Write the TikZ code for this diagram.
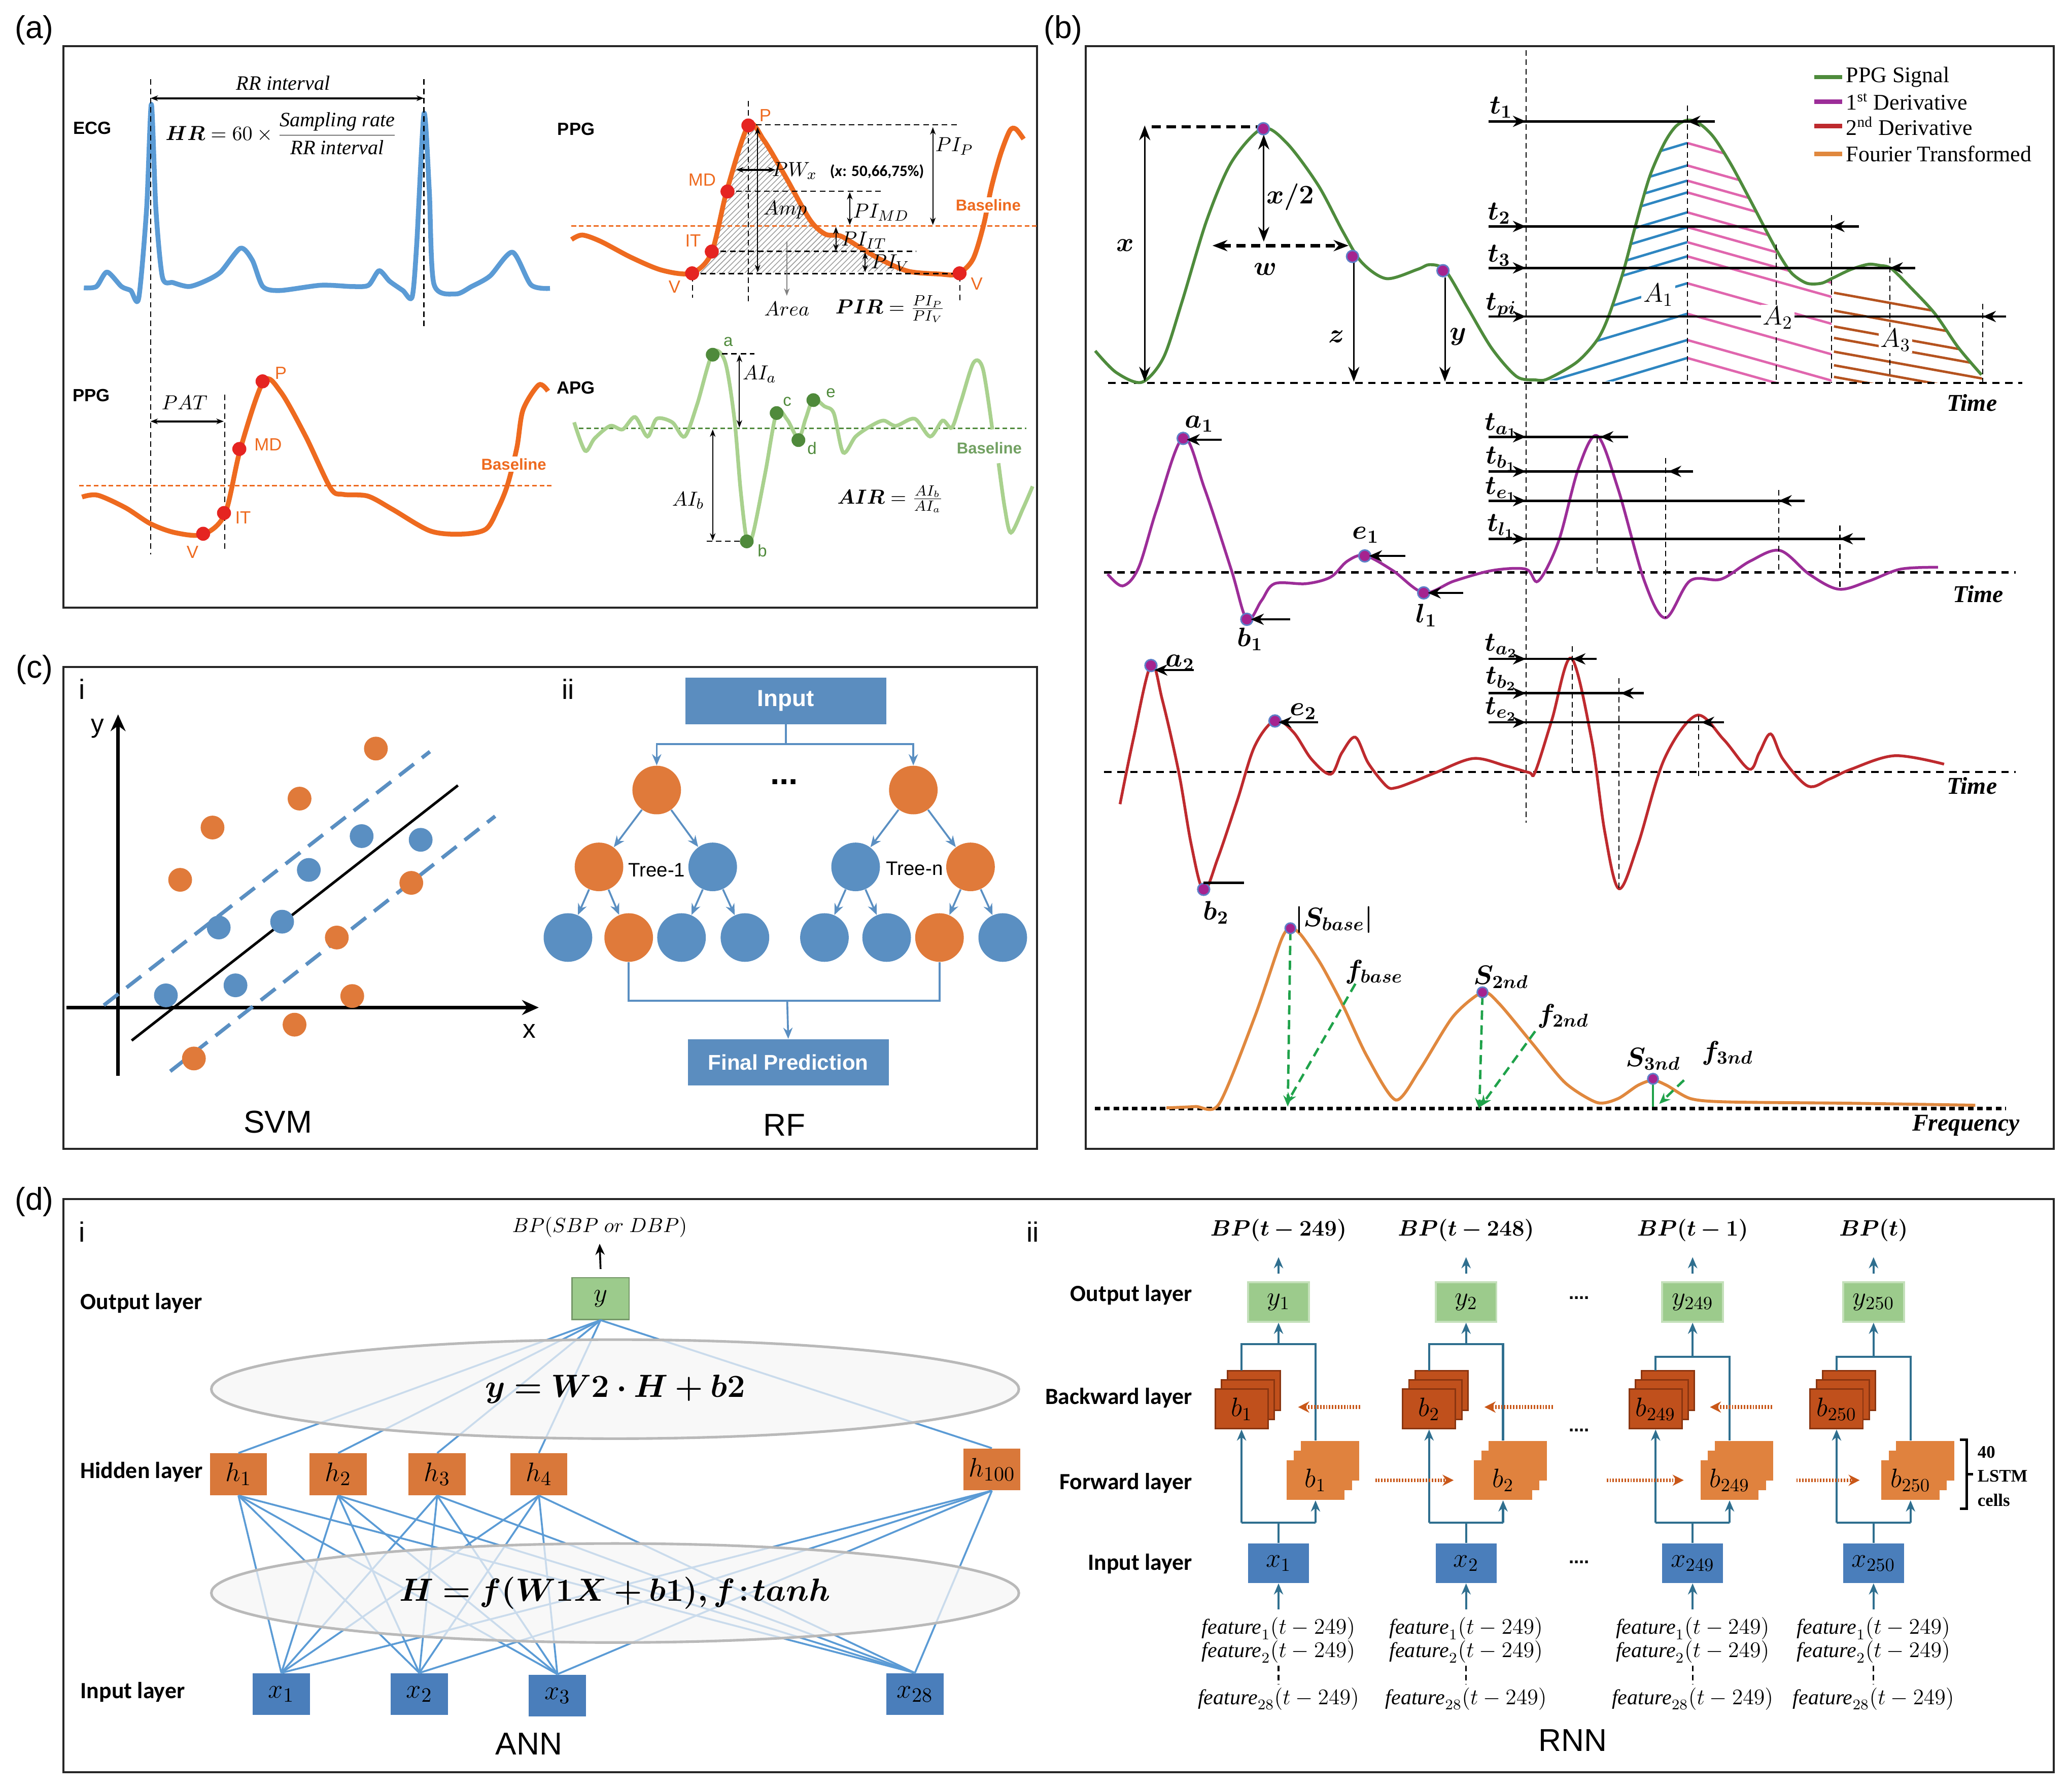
\documentclass[tikz,border=0pt]{standalone}
\usepackage{fontspec}
\usepackage{amsmath}
\usepackage{bm}
\setmainfont{Liberation Sans}
\newfontfamily\serf{Liberation Serif}
\newfontfamily\calf{Carlito}
\usetikzlibrary{arrows.meta,patterns,positioning,calc}

% colours
\definecolor{ecgblue}{HTML}{5B9BD5}
\definecolor{ppgor}{HTML}{EE6A1F}
\definecolor{dotred}{HTML}{E52421}
\definecolor{apglight}{HTML}{A9D18E}
\definecolor{apgdark}{HTML}{4F8A3B}
\definecolor{siggreen}{HTML}{4E8B3C}
\definecolor{derivone}{HTML}{9C2D98}
\definecolor{derivtwo}{HTML}{BE2A2E}
\definecolor{fourier}{HTML}{E0883E}
\definecolor{hatchblue}{HTML}{2E86C1}
\definecolor{hatchpink}{HTML}{E066AE}
\definecolor{hatchbrown}{HTML}{B5531F}
\definecolor{markfill}{HTML}{A5238F}
\definecolor{markedge}{HTML}{5E80C8}
\definecolor{dashgreen}{HTML}{1FA24A}
\definecolor{svmblue}{HTML}{5A8FC2}
\definecolor{svmorange}{HTML}{E07A3A}
\definecolor{rfbox}{HTML}{5B8DBF}
\definecolor{annblue}{HTML}{4A7EBB}
\definecolor{annorange}{HTML}{D9783A}
\definecolor{anngreen}{HTML}{9CCB8C}
\definecolor{annline}{HTML}{5B9BD5}
\definecolor{wire}{HTML}{2F6F8F}
\definecolor{backcell}{HTML}{C0501C}
\definecolor{backedge}{HTML}{8A3510}
\definecolor{fwdcell}{HTML}{E0823E}

\tikzset{
  panel/.style={draw=black!85, line width=1.1pt},
  plab/.style={font=\fontsize{17}{19}\selectfont},
  sublab/.style={font=\fontsize{15}{17}\selectfont},
  bigname/.style={font=\fontsize{17}{19}\selectfont},
  siglab/.style={font=\bfseries\fontsize{9.5}{11}\selectfont},
  ptlab/.style={font=\fontsize{9.5}{11}\selectfont, text=ppgor, inner sep=1pt},
  baselab/.style={font=\bfseries\fontsize{8.5}{10}\selectfont, fill=white, inner sep=1pt},
  mlab/.style={font=\fontsize{11}{13}\selectfont, inner sep=1pt},
  dimarr/.style={{Stealth[length=4pt,width=3pt]}-{Stealth[length=4pt,width=3pt]}, line width=0.6pt},
  thinarr/.style={-{Stealth[length=4pt,width=3pt]}, line width=0.6pt},
  blab/.style={font=\fontsize{14}{16}\selectfont, inner sep=1pt},
  timelab/.style={font=\serf\bfseries\itshape\fontsize{13}{15}\selectfont},
  tline/.style={line width=1.3pt},
  tarr/.style={-{Stealth[length=7pt,width=6pt]}, line width=1.3pt},
  bdash/.style={dash pattern=on 3pt off 2pt, line width=0.6pt},
  bbase/.style={dash pattern=on 4pt off 3pt, line width=1.2pt},
  pmark/.style={fill=markfill, draw=markedge, line width=0.8pt},
  treenode/.style={circle, minimum size=0.92cm, inner sep=0pt},
  rfboxs/.style={fill=rfbox, text=white, font=\bfseries\fontsize{12.5}{14}\selectfont, minimum width=3.8cm, minimum height=0.88cm},
  rfarr/.style={svmblue, line width=1pt, -{Stealth[length=6pt,width=5pt]}},
  rfline/.style={svmblue, line width=1pt},
  annbox/.style={minimum width=1.08cm, minimum height=0.79cm, inner sep=0pt, font=\fontsize{15}{17}\selectfont},
  annedge/.style={annline, line width=1pt},
  annell/.style={fill=gray!8, fill opacity=0.72, draw=gray!55, line width=1.4pt},
  layerlab/.style={font=\calf\bfseries\fontsize{12.5}{14}\selectfont},
  rnnbox/.style={minimum width=1.15cm, minimum height=0.75cm, inner sep=0pt, font=\fontsize{14}{16}\selectfont},
  cellfront/.style={minimum width=1.0cm, minimum height=0.75cm, inner sep=0pt, font=\fontsize{14}{16}\selectfont},
  wireln/.style={wire, line width=1.2pt},
  wirearr/.style={wire, line width=1.2pt, -{Stealth[length=6pt,width=5pt]}},
  dotarr/.style={backcell!85!orange, line width=2pt, dash pattern=on 0.8pt off 0.8pt, -{Stealth[length=6pt,width=6pt]}},
  featlab/.style={font=\fontsize{11.5}{13}\selectfont, inner sep=0.5pt},
}

\begin{document}
\begin{tikzpicture}[x=0.025cm, y=-0.025cm]
\useasboundingbox (0,0) rectangle (1568,1357);

% ---------------- frames ----------------
\draw[panel] (48,35) rectangle (785,460);
\draw[panel] (822,35) rectangle (1555,870);
\draw[panel] (48,505) rectangle (785,870);
\draw[panel] (48,908) rectangle (1555,1342);
\node[plab] (la) at (26,23) {(a)};
\node[plab] (lb) at (805,23) {(b)};
\node[plab] (lc) at (26,507) {(c)};
\node[plab] (ld) at (26,910) {(d)};

% ---------------- (a) ECG ----------------
\node[siglab] (ecg) at (70,97) {ECG};
\draw[ecgblue, line width=2.6pt, line join=round] plot[smooth, tension=0.45] coordinates {(63.5,218) (73,217) (81,206) (92,217) (99,220) (105,226) (111,158) (114.6,79) (118,158) (123,210) (131,214) (143,217) (155,213) (167,206) (182,188) (191,197) (199,217) (212,220) (243,216) (267,217) (279,216) (287,205) (295,213) (305,220) (312,225) (315.5,185) (321,86) (325,144) (328.5,215) (345,222.6) (357,217) (371,209) (388,191) (402,215.7) (416.4,218.4)};
\draw[bdash] (114,60) -- (114,420);
\draw[bdash] (320.9,60) -- (320.9,248);
\draw[dimarr, line width=1pt] (114,74.4) -- (320.9,74.4);
\node[mlab, font=\serf\itshape\fontsize{11}{13}\selectfont] (rr) at (214.4,63) {RR interval};
\node[mlab] (hr) at (213,101) {$\bm{HR} = 60\times\dfrac{\text{\serf\itshape Sampling rate}}{\text{\serf\itshape RR interval}}$};

% ---------------- (a) PPG top ----------------
\node[siglab] (ppga) at (436.2,97.7) {PPG};
\fill[pattern=north east lines, pattern color=gray!80] plot[smooth, tension=0.5] coordinates {(523.5,207) (538.6,191.7) (550.3,144.4) (566.6,95) (578.2,106) (594.5,133.4) (613.1,166.3) (624.8,177.3) (636.4,178.7) (650.4,186.9) (666.7,196.5) (687.6,205.4)} -- cycle;
\draw[ppgor, line width=0.9pt, dash pattern=on 2.5pt off 1.5pt] (432.7,171) -- (785,171);
\draw[ppgor, line width=2.6pt] plot[smooth, tension=0.5] coordinates {(432.7,181.4) (440.9,178) (454.8,182.8) (478,195) (501.4,204.7) (523.5,206.8) (538.6,191.7) (550.3,144.4) (566.6,95) (578.2,106) (594.5,133.4) (613.1,166.3) (624.8,177.3) (636.4,178.7) (650.4,186.9) (666.7,196.5) (687.6,205.4) (710.9,207.5) (724.9,207.5) (736.5,196.5) (744.7,170.4) (750.5,142.3) (757.5,116.9) (764.5,99) (769.1,97.7) (775,105.3)};
\draw[bdash] (572.4,94.6) -- (724.9,94.6);
\draw[bdash] (550.3,144.8) -- (669,144.8);
\draw[bdash] (538.6,190.3) -- (693.4,190.3);
\draw[bdash] (523.5,207.2) -- (727,207.2);
\draw[bdash] (566.6,76.4) -- (566.6,230.8);
\draw[bdash] (524.2,209) -- (524.2,225.3);
\draw[bdash] (726.7,209) -- (726.7,229.4);
\draw[dimarr] (573.6,96.3) -- (573.6,206.1);
\draw[dimarr, line width=1pt] (557.3,128.6) -- (587.1,128.6);
\draw[dimarr] (706.3,96.3) -- (706.3,170.4);
\draw[dimarr] (643.4,145.5) -- (643.4,170.4);
\draw[dimarr] (632.9,171.8) -- (632.9,190.3);
\draw[dimarr] (655,191) -- (655,206.1);
\draw[gray, line width=0.6pt, -{Stealth[length=4pt,width=3pt]}] (595.7,182.8) -- (595.7,224);
\foreach \px/\py in {566.6/95, 550.8/145, 538.9/190.5, 524/207, 726.5/207}
  \fill[dotred] (\px,\py) circle [radius=5.3];
\node[mlab] (amp) at (594.5,158.8) {$Amp$};
\node[mlab] (pw) at (601.5,129.3) {$PW_x$};
\node[font=\calf\bfseries\fontsize{8.5}{10}\selectfont] (pwx) at (664,130) {(\textit{x}: 50,66,75\%)};
\node[mlab] (pip) at (722.5,110.7) {$PI_P$};
\node[mlab] (pimd) at (667,160.8) {$PI_{MD}$};
\node[mlab] (piit) at (654,182.1) {$PI_{IT}$};
\node[mlab] (piv) at (674,199.2) {$PI_V$};
\node[mlab] (area) at (595.7,234) {$Area$};
\node[mlab] (pir) at (674,234) {$\bm{PIR} = \frac{PI_P}{PI_V}$};
\node[ptlab] (pP) at (579.4,87.4) {P};
\node[ptlab] (pMD) at (531.6,136.1) {MD};
\node[ptlab] (pIT) at (524.7,182.1) {IT};
\node[ptlab] (pV) at (510.7,217.1) {V};
\node[ptlab] (pV2) at (739.5,215) {V};
\node[baselab, text=ppgor] (bl1) at (748.2,155.3) {Baseline};

% ---------------- (a) PPG bottom ----------------
\node[siglab] (ppgb) at (69.2,299.6) {PPG};
\draw[ppgor, line width=0.9pt, dash pattern=on 2.5pt off 1.5pt] (59.8,367.7) -- (419.6,367.7);
\draw[ppgor, line width=2.6pt] plot[smooth, tension=0.5] coordinates {(62.1,376.4) (73.9,375) (95,384.5) (113.9,396.6) (132.7,403.4) (153.8,404.7) (170.3,389.2) (182,340) (199.5,288.8) (212.6,296.9) (231.5,330.6) (250.3,369.7) (259.7,374.4) (278.5,375.7) (297.3,385.8) (325.5,402) (349,404.5) (367.9,400.7) (377.3,384.5) (384.3,367) (391.4,338.7) (396,310.4) (407.9,291.5) (414.9,296.2)};
\draw[bdash] (170.3,298.9) -- (170.3,418.2);
\draw[dimarr, line width=1pt] (113.9,319.1) -- (169.4,319.1);
\node[mlab] (pat) at (139.7,305) {$PAT$};
\foreach \px/\py in {153.8/404.2, 169.6/388.5, 181.2/340, 198.8/288.8}
  \fill[dotred] (\px,\py) circle [radius=5.3];
\node[ptlab] (qP) at (212.6,282.7) {P};
\node[ptlab] (qMD) at (203,336.6) {MD};
\node[ptlab] (qIT) at (184,392) {IT};
\node[ptlab] (qV) at (145.8,418.2) {V};
\node[baselab, text=ppgor] (bl2) at (389,351.5) {Baseline};

% ---------------- (a) APG ----------------
\node[siglab] (apg) at (436,293.5) {APG};
\draw[apgdark, line width=0.9pt, dash pattern=on 2.5pt off 1.5pt] (438.4,324.5) -- (777,324.5);
\draw[apglight, line width=2pt] plot[smooth, tension=0.5] coordinates {(434.7,319.8) (443,341.4) (450.2,332) (462,322.5) (471.4,325.2) (480.8,315.8) (490.2,330.6) (497.2,317.1) (509,319.8) (518.4,330.6) (527.8,306.3) (539.6,267.2) (549,274) (556,317) (560.7,371) (565.4,408.8) (570,404.7) (579.5,357.5) (588,312.4) (596,317.8) (604.5,332) (610,317) (615.8,302.3) (624.2,307.7) (631.3,313) (638.4,342.7) (647.8,330.6) (659.5,322.5) (669,318.5) (678.3,322.5) (692.5,317.1) (704.2,330.6) (713.6,318.5) (720.7,323.8) (727.7,303.6) (737.1,274.6) (744.2,279.4) (751.3,325.2)};
\draw[apglight, line width=2pt] plot[smooth, tension=0.5] coordinates {(756,350.8) (760.7,384.5) (765.4,403.4) (774.8,384.5) (781.8,368.3)};
\draw[bdash] (539.6,267.9) -- (571.1,267.9);
\draw[bdash] (534.9,410) -- (565.4,410);
\draw[dimarr] (559.8,268.6) -- (559.8,323.8);
\draw[dimarr] (539.6,325.2) -- (539.6,409.4);
\foreach \px/\py in {539.6/268.6, 565.4/410, 588/312.8, 604.5/333.3, 615.8/303}
  \fill[apgdark] (\px,\py) circle [radius=5.2];
\node[font=\fontsize{9}{10}\selectfont, text=apgdark] (ga) at (551.3,259) {a};
\node[font=\fontsize{9}{10}\selectfont, text=apgdark] (gb) at (577.2,417) {b};
\node[font=\fontsize{9}{10}\selectfont, text=apgdark] (gc) at (596,304.3) {c};
\node[font=\fontsize{9}{10}\selectfont, text=apgdark] (gd) at (614.8,339.3) {d};
\node[font=\fontsize{9}{10}\selectfont, text=apgdark] (ge) at (629,297.6) {e};
\node[mlab] (aia) at (575,283.4) {$AI_a$};
\node[mlab] (aib) at (521,379) {$AI_b$};
\node[mlab] (air) at (674,378) {$\bm{AIR} = \frac{AI_b}{AI_a}$};
\node[baselab, text=apgdark!80] (bl3) at (749,339.3) {Baseline};

% ---------------- (b) legend ----------------
\foreach \yy/\cc/\tt in {58.4/siggreen/{PPG Signal}, 76.9/derivone/{1\textsuperscript{st} Derivative}, 95.5/derivtwo/{2\textsuperscript{nd} Derivative}, 116.6/fourier/{Fourier Transformed}}{
  \draw[\cc, line width=2.4pt] (1373.5,\yy) -- (1394.6,\yy);
  \node[anchor=west, font=\serf\fontsize{12}{14}\selectfont, inner sep=1pt] at (1396,\yy) {\tt};
}

% ---------------- (b) PPG features ----------------
\begin{scope}
  \clip plot[smooth, tension=0.5] coordinates {(1162.3,287.7) (1171.7,287) (1193.8,274.3) (1209.2,257.5) (1218,239.2) (1229,205.7) (1237.9,172.3) (1248.9,134) (1260,108.6) (1268.7,95.8) (1277.5,91)} -- (1277.5,290) -- cycle;
  \foreach \yy in {108.3,125.3,136.8,145.7,160.8,172,183.4,194.1,214.5,237.6,257.5,271.1}
    \draw[hatchblue, line width=1.3pt] (1277.5,\yy) -- ++(-160,48);
\end{scope}
\begin{scope}
  \clip plot[smooth, tension=0.5] coordinates {(1277.5,91) (1286.4,93.4) (1297.4,103.8) (1310.6,124.5) (1326,153.2) (1339.3,178.7) (1348.1,194.6) (1356.9,207.3) (1368,214.5) (1379,214.5) (1386.7,210.8)} -- (1386.7,290) -- (1277.5,290) -- cycle;
  \foreach \yy in {108.3,125.3,136.8,145.7,160.8,172,183.4,194.1,214.5,237.6,257.5,271.1}
    \draw[hatchpink, line width=1.3pt] (1277.5,\yy) -- ++(160,45);
\end{scope}
\begin{scope}
  \clip plot[smooth, tension=0.5] coordinates {(1386.7,210.8) (1401,204.2) (1414.3,200.2) (1423,201) (1431.9,203.4) (1447.3,218.5) (1465,237.6) (1482.6,263.1) (1500.2,283.8)} -- (1501.3,290) -- (1386.7,290) -- cycle;
  \foreach \yy in {221.7,235.2,247.2,255.9,266.3,276.6,285.4}
    \draw[hatchbrown, line width=1.3pt] (1388.5,\yy) -- ++(160,29);
\end{scope}
\draw[bbase] (839,290) -- (1531,290);
\draw[bdash] (1155.3,38) -- (1155.3,623);
\draw[siggreen, line width=1.6pt] plot[smooth, tension=0.5] coordinates {(829.2,265.7) (845,282) (864.4,289.5) (880.8,271) (894.9,228.6) (913.6,166.9) (932.4,122.8) (955.9,97.2) (974.6,108.7) (998.1,140.4) (1016.9,175.7) (1031,198.7) (1049.7,211) (1073.2,204) (1082.6,200.4) (1094.3,204.8) (1110.7,232.2) (1129.5,263.9) (1148.2,285.1) (1162.3,287.7) (1171.7,287) (1193.8,274.3) (1209.2,257.5) (1218,239.2) (1229,205.7) (1237.9,172.3) (1248.9,134) (1260,108.6) (1268.7,95.8) (1277.5,91) (1286.4,93.4) (1297.4,103.8) (1310.6,124.5) (1326,153.2) (1339.3,178.7) (1348.1,194.6) (1356.9,207.3) (1368,214.5) (1379,214.5) (1387.8,210.5) (1401,204.2) (1414.3,200.2) (1423,201) (1431.9,203.4) (1447.3,218.5) (1465,237.6) (1482.6,263.1) (1500.2,283.8)};
% left measures
\draw[{Stealth[length=8pt,width=6pt]}-{Stealth[length=8pt,width=6pt]}, line width=0.8pt] (866.7,95) -- (866.7,289);
\draw[line width=1.8pt, dash pattern=on 5pt off 3pt] (872,96) -- (953,96);
\draw[{Stealth[length=8pt,width=6pt]}-{Stealth[length=8pt,width=6pt]}, line width=0.8pt] (956.8,102) -- (956.8,183);
\draw[{Stealth[length=8pt,width=6pt]}-{Stealth[length=8pt,width=6pt]}, line width=1.8pt, dash pattern=on 5pt off 3pt] (918,186) -- (1021,186);
\draw[-{Stealth[length=8pt,width=6pt]}, line width=0.8pt] (1025,199) -- (1025,289);
\draw[-{Stealth[length=8pt,width=6pt]}, line width=0.8pt] (1094,210) -- (1094,289);
\foreach \px/\py in {956.5/97.5, 1024/194.2, 1092.5/205}
  \filldraw[pmark] (\px,\py) circle [radius=4.5];
\node[blab] (lx) at (852,186) {$\bm{x}$};
\node[blab] (lx2) at (977,149) {$\bm{x/2}$};
\node[blab] (lw) at (958,204) {$\bm{w}$};
\node[blab] (lz) at (1012,255) {$\bm{z}$};
\node[blab] (ly) at (1104,255) {$\bm{y}$};
% time marks
\draw[bdash] (1277.5,80) -- (1277.5,290);
\draw[bdash] (1386.7,162.7) -- (1386.7,290);
\draw[bdash] (1430.8,195) -- (1430.8,290);
\draw[bdash] (1501.3,230) -- (1501.3,290);
\draw[bdash] (1344.8,185) -- (1344.8,290);
\foreach \yy/\xe/\xt in {91.9/1298.5/1277.5, 171.5/1407.6/1386.7, 202.9/1450/1430.8, 239.7/1519/1501.3}{
  \draw[tline] (1127,\yy) -- (\xe,\yy);
  \draw[tarr] (1135,\yy) -- (1155.3,\yy);
  \draw[tarr] (\xe,\yy) -- (\xt,\yy);
}
\node[blab] (tone) at (1136.5,81.3) {$\bm{t_1}$};
\node[blab] (ttwo) at (1135,161.6) {$\bm{t_2}$};
\node[blab] (tthree) at (1135,193.4) {$\bm{t_3}$};
\node[blab] (tpi) at (1136.5,231.3) {$\bm{t_{pi}}$};
\node[mlab, fill=white, font=\fontsize{14}{16}\selectfont] (aone) at (1255.5,223.3) {$A_1$};
\node[mlab, fill=white, font=\fontsize{14}{16}\selectfont] (atwo) at (1346,240.8) {$A_2$};
\node[mlab, fill=white, font=\fontsize{14}{16}\selectfont] (athree) at (1435.2,257.5) {$A_3$};
\node[timelab] (time1) at (1493,305) {Time};

% ---------------- (b) first derivative ----------------
\draw[bbase] (836,433.5) -- (1526,433.5);
\draw[derivone, line width=1.5pt] plot[smooth, tension=0.55] coordinates {(838.6,434.7) (850,443.7) (862,430) (876,385) (895.8,331.5) (912,370) (932.4,432) (944,469) (955,455) (965,442) (989,442) (1007.5,437) (1020,425) (1033.3,420.7) (1054.4,432) (1077.9,448.8) (1101,440) (1130,432) (1155.3,431) (1164.7,440) (1180,410) (1195,355) (1209.2,330) (1225,370) (1245,440) (1260.9,467.9) (1279.6,439.8) (1303,438.6) (1325,425) (1347.6,416.9) (1370,435) (1392.2,446.2) (1415,440) (1439,431) (1467.3,429.6)};
\foreach \px/\py in {895.8/332, 944/469, 1033.3/421, 1077.9/449}
  \filldraw[pmark] (\px,\py) circle [radius=4.5];
\draw[tarr] (925,333) -- (898.5,333);
\draw[tarr] (977,469) -- (947,469);
\draw[tarr] (1064,421) -- (1036.5,421);
\draw[tarr] (1108,449) -- (1081,449);
\node[blab] (aoneb) at (908,321) {$\bm{a_1}$};
\node[blab] (boneb) at (946.5,484) {$\bm{b_1}$};
\node[blab] (eoneb) at (1034,405) {$\bm{e_1}$};
\node[blab] (loneb) at (1080,466) {$\bm{l_1}$};
\draw[bdash] (1209.2,331) -- (1209.2,433.5);
\draw[bdash] (1261,347) -- (1261,468);
\draw[bdash] (1346.7,371) -- (1346.7,433.5);
\draw[bdash] (1393,398) -- (1393,446);
\foreach \yy/\xe/\xt in {330.8/1232.7/1211.6, 357/1282/1263, 379.2/1366.4/1346.7, 408/1412/1393}{
  \draw[tline] (1127,\yy) -- (\xe,\yy);
  \draw[tarr] (1135,\yy) -- (1155.3,\yy);
  \draw[tarr] (\xe,\yy) -- (\xt,\yy);
}
\node[blab] (ta1) at (1136.5,322) {$\bm{t_{a_1}}$};
\node[blab] (tb1) at (1136.5,347.5) {$\bm{t_{b_1}}$};
\node[blab] (te1) at (1136.5,370.5) {$\bm{t_{e_1}}$};
\node[blab] (tl1) at (1136.5,398.5) {$\bm{t_{l_1}}$};
\node[timelab] (time2) at (1497.8,450) {Time};

% ---------------- (b) second derivative ----------------
\draw[bbase] (836,584.6) -- (1526,584.6);
\draw[derivtwo, line width=1.5pt] plot[smooth, tension=0.55] coordinates {(848,609) (858,560) (871.4,503.5) (880,530) (892.5,585) (902,640) (911.3,674.3) (922,650) (937,605.5) (950,565) (965.3,545.6) (979.3,554.5) (993,575) (1007.5,586.3) (1016,570) (1026.2,558.3) (1036,578) (1049.7,595.3) (1056.7,596.6) (1070,592) (1087.2,585) (1115.4,574.4) (1140,580) (1157.6,585) (1162.3,584.6) (1175,545) (1189.5,498.4) (1205,560) (1215,630) (1225.7,673) (1240,640) (1260,575) (1284.3,541.8) (1305,560) (1324.2,582.5) (1332,570) (1340.6,555.8) (1350,575) (1368.8,595.3) (1385,590) (1401.6,582.5) (1434.5,572.3) (1471.9,578.7)};
\foreach \px/\py in {871.4/504, 911.3/673.5, 965.3/546}
  \filldraw[pmark] (\px,\py) circle [radius=4.5];
\draw[tarr] (904,507.4) -- (874,507.4);
\draw[line width=1.3pt] (911.3,668.6) -- (942,668.6);
\draw[tarr] (998,547) -- (968,547);
\node[blab, anchor=west] (atwob) at (881,502) {$\bm{a_2}$};
\node[blab] (btwob) at (920.7,691) {$\bm{b_2}$};
\node[blab, anchor=west] (etwob) at (975,539) {$\bm{e_2}$};
\draw[bdash] (1190.5,489.5) -- (1190.5,584.6);
\draw[bdash] (1225.7,513.7) -- (1225.7,673);
\draw[bdash] (1286,541.8) -- (1286,587.6);
\foreach \yy/\xe/\xt in {499/1209/1190.5, 525/1244.4/1227, 547/1305.4/1288}{
  \draw[tline] (1127,\yy) -- (\xe,\yy);
  \draw[tarr] (1135,\yy) -- (1155.3,\yy);
  \draw[tarr] (\xe,\yy) -- (\xt,\yy);
}
\node[blab] (ta2) at (1136.5,489) {$\bm{t_{a_2}}$};
\node[blab] (tb2) at (1136.5,514) {$\bm{t_{b_2}}$};
\node[blab] (te2) at (1136.5,537) {$\bm{t_{e_2}}$};
\node[timelab] (time3) at (1493,595) {Time};

% ---------------- (b) Fourier ----------------
\draw[line width=1.8pt, dash pattern=on 3pt off 2pt] (829,839.6) -- (1519,839.6);
\draw[fourier, line width=1.6pt] plot[smooth, tension=0.45] coordinates {(883.1,839) (905,838) (923,836) (950,770) (970,712) (977,703) (985,708) (1000,730) (1016.9,761.7) (1035,800) (1056.7,833) (1075,810) (1100,770) (1122.4,751.5) (1135,760) (1160,790) (1185,820) (1209.2,835) (1225,832) (1240,822) (1251.5,818) (1262,822) (1280,832) (1307.8,834.5) (1400,835.5) (1495.5,837)};
\foreach \ax/\ay/\bx/\by in {977/705/975/838, 1026.2/745/974/836, 1122.4/754/1120/840, 1162.3/781/1121/838, 1275/818/1256.2/836}
  \draw[dashgreen, line width=1.3pt, dash pattern=on 5pt off 3pt, -{Stealth[length=6pt,width=5pt]}] (\ax,\ay) -- (\bx,\by);
\draw[dashgreen, line width=1.3pt] (1251.5,818) -- (1251.5,838);
\foreach \px/\py in {977/703, 1122.4/751.5, 1251.5/817}
  \filldraw[pmark] (\px,\py) circle [radius=4];
\node[blab] (sbase) at (1010,696.6) {$\bm{|S_{base}|}$};
\node[blab] (fbase) at (1040.3,736.2) {$\bm{f_{base}}$};
\node[blab] (s2nd) at (1136.5,740) {$\bm{S_{2nd}}$};
\node[blab] (f2nd) at (1183.4,769.4) {$\bm{f_{2nd}}$};
\node[blab] (s3nd) at (1251.5,802) {$\bm{S_{3nd}}$};
\node[blab] (f3nd) at (1307.8,797.5) {$\bm{f_{3nd}}$};
\node[timelab] (freq) at (1488.4,852.4) {Frequency};

% ---------------- (c) i SVM ----------------
\node[sublab] (ci) at (62,522) {i};
\node[sublab] (cii) at (430,522) {ii};
\draw[line width=1.8pt, -{Stealth[length=9pt,width=8pt]}] (89.4,814.8) -- (89.4,541);
\draw[line width=1.8pt, -{Stealth[length=9pt,width=8pt]}] (50.4,763) -- (407.9,763);
\node[font=\fontsize{14}{16}\selectfont] (ylab) at (74,551.8) {y};
\node[font=\fontsize{14}{16}\selectfont] (xlab) at (400.8,781) {x};
\draw[line width=1.4pt] (99.7,788) -- (346.7,594.8);
\draw[svmblue, line width=2pt, dash pattern=on 10pt off 5.5pt] (78.6,761.3) -- (325.5,569.2);
\draw[svmblue, line width=2pt, dash pattern=on 10pt off 5.5pt] (128.9,811.3) -- (374.9,618.1);
\foreach \px/\py in {284.6/566.9, 226.8/604.8, 160.9/626.7, 136.4/666.3, 311.4/668.6, 255/710, 266.7/754.3, 223/776, 146.8/801.6}
  \fill[svmorange] (\px,\py) circle [radius=9];
\foreach \px/\py in {273.8/633.2, 318.5/636, 233.8/658.8, 165.6/702.4, 213.6/698, 178.3/746.2, 125.6/753.8}
  \fill[svmblue] (\px,\py) circle [radius=9];
\node[bigname] (svm) at (210.3,849.7) {SVM};

% ---------------- (c) ii RF ----------------
\node[rfboxs] (inp) at (594.9,530.8) {Input};
\node[treenode, fill=svmorange] (root1) at (497.2,598.3) {};
\node[treenode, fill=svmorange] (rootn) at (691.5,598.3) {};
\node[font=\bfseries\fontsize{18}{20}\selectfont] (tdots) at (593.7,592) {...};
\node[treenode, fill=svmorange] (ca) at (453.5,656.5) {};
\node[treenode, fill=svmblue] (cb) at (539.6,656.5) {};
\node[treenode, fill=svmblue] (cc) at (647.8,656.5) {};
\node[treenode, fill=svmorange] (cd) at (734.8,656.5) {};
\node[treenode, fill=svmblue] (lfa) at (430,710) {};
\node[treenode, fill=svmorange] (lfb) at (476,710) {};
\node[treenode, fill=svmblue] (lfc) at (516,710) {};
\node[treenode, fill=svmblue] (lfd) at (564,710) {};
\node[treenode, fill=svmblue] (lfe) at (624.2,710) {};
\node[treenode, fill=svmblue] (lff) at (671.3,710) {};
\node[treenode, fill=svmorange] (lfg) at (711.3,710) {};
\node[treenode, fill=svmblue] (lfh) at (759.2,710) {};
\node[font=\fontsize{10.5}{12}\selectfont, inner sep=0pt] (treeone) at (497.2,658.8) {Tree-1};
\node[font=\fontsize{10.5}{12}\selectfont, inner sep=0pt] (treen) at (692.4,657.7) {Tree-n};
\node[rfboxs, font=\bfseries\fontsize{11.5}{13}\selectfont] (fin) at (596.8,804.6) {Final Prediction};
\coordinate (split) at (594.9,563.4);
\coordinate (join) at (596,757.8);
\draw[rfline] (inp.south) -- (split);
\draw[rfarr] (split) -| (root1.north);
\draw[rfarr] (split) -| (rootn.north);
\draw[rfarr] (root1) -- (ca);
\draw[rfarr] (root1) -- (cb);
\draw[rfarr] (rootn) -- (cc);
\draw[rfarr] (rootn) -- (cd);
\draw[rfarr] (ca) -- (lfa);
\draw[rfarr] (ca) -- (lfb);
\draw[rfarr] (cb) -- (lfc);
\draw[rfarr] (cb) -- (lfd);
\draw[rfarr] (cc) -- (lfe);
\draw[rfarr] (cc) -- (lff);
\draw[rfarr] (cd) -- (lfg);
\draw[rfarr] (cd) -- (lfh);
\draw[rfline] (lfb.south) |- (join) -| (lfg.south);
\draw[rfarr] (join) -- (fin.north);
\node[bigname] (rf) at (593.7,852) {RF};

% ---------------- (d) i ANN ----------------
\node[sublab] (di) at (62,933) {i};
\node[annbox, fill=anngreen, draw=anngreen!75!black, line width=0.8pt] (yout) at (454.7,983.4) {$y$};
\node[font=\fontsize{11}{13}\selectfont] (bpout) at (454,929.2) {$BP(SBP\ or\ DBP)$};
\draw[-{Stealth[length=6pt,width=5pt]}, line width=1pt] (yout.north) ++(0,-6) -- (bpout.south);
\node[annbox, fill=annorange] (h1) at (180.5,1116.5) {$h_1$};
\node[annbox, fill=annorange] (h2) at (256,1116.5) {$h_2$};
\node[annbox, fill=annorange] (h3) at (331,1116.5) {$h_3$};
\node[annbox, fill=annorange] (h4) at (408,1116.5) {$h_4$};
\node[annbox, fill=annorange] (h100) at (751,1112.8) {$h_{100}$};
\node[annbox, fill=annblue] (x1) at (213,1283) {$x_1$};
\node[annbox, fill=annblue] (x2) at (317.5,1283) {$x_2$};
\node[annbox, fill=annblue] (x3) at (422,1284) {$x_3$};
\node[annbox, fill=annblue] (x28) at (692.7,1283) {$x_{28}$};
\foreach \h in {h1,h2,h3,h4,h100}
  \draw[annedge] (yout.south) -- (\h.north);
\foreach \h in {h1,h2,h3,h4,h100}
  \foreach \x in {x1,x2,x3,x28}
    \draw[annedge] (\h.south) -- (\x.north);
\draw[annell] (465.7,1052) ellipse [x radius=305.7, y radius=37.5];
\draw[annell] (465.7,1206.4) ellipse [x radius=305.7, y radius=37.5];
\node[font=\fontsize{17}{19}\selectfont] (form2) at (465.7,1052) {$\bm{y = W2\cdot H + b2}$};
\node[font=\fontsize{17}{19}\selectfont] (form1) at (465.7,1206.4) {$\bm{H = f(W1X + b1), f\!:\! tanh}$};
\node[layerlab, anchor=west] (lo) at (56,986.7) {Output layer};
\node[layerlab, anchor=west] (lh) at (56,1114.7) {Hidden layer};
\node[layerlab, anchor=west] (li) at (56,1281.5) {Input layer};
\node[bigname] (ann) at (400.4,1320.5) {ANN};

% ---------------- (d) ii RNN ----------------
\node[sublab] (dii) at (782,933) {ii};
\node[layerlab, anchor=east] (ro) at (907.6,980.5) {Output layer};
\node[layerlab, anchor=east] (rb) at (907.6,1058.6) {Backward layer};
\node[layerlab, anchor=east] (rf) at (907.6,1123) {Forward layer};
\node[layerlab, anchor=east] (ri) at (907.6,1184.2) {Input layer};
\foreach \col/\cx/\ty/\sub/\bpl in {1/968/1018/1/{t-249}, 2/1110/1018/2/{t-248}, 3/1281.5/1027.5/249/{t-1}, 4/1418.5/1027.5/250/t}{
  \pgfmathsetmacro{\xl}{\cx-28}
  \pgfmathsetmacro{\xr}{\cx+28}
  % output and label
  \node[rnnbox, fill=anngreen, draw=anngreen!60!white, line width=1pt] (rout\col) at (\cx,986) {$y_{\sub}$};
  \node[font=\fontsize{13}{15}\selectfont] (rbp\col) at (\cx,931.6) {$\bm{BP(\bpl)}$};
  \draw[wirearr, shorten <=4pt, shorten >=5pt] (rout\col.north) -- (rbp\col.south);
  % backward cells
  \foreach \s in {2,1}
    \filldraw[fill=backcell, draw=backedge, line width=0.8pt] ({\xl+4.7*\s-20},{1067-7*\s-15}) rectangle ++(40,30);
  \node[cellfront, fill=backcell, draw=backedge, line width=0.8pt] (rbw\col) at (\xl,1067) {$b_{\sub}$};
  % forward cells
  \foreach \s in {2,1}
    \fill[fwdcell] ({\xr+5.5*\s-22},{1121-7.4*\s-15}) rectangle ++(44,30);
  \node[cellfront, minimum width=1.1cm, fill=fwdcell] (rfw\col) at (\xr,1121) {$b_{\sub}$};
  % input
  \node[rnnbox, fill=annblue] (rin\col) at (\cx,1183.8) {$x_{\sub}$};
  % features
  \node[featlab] (fta\col) at (\cx,1233.2) {$\text{\serf\itshape feature}_1(t-249)$};
  \node[featlab] (ftb\col) at (\cx,1251) {$\text{\serf\itshape feature}_2(t-249)$};
  \node[featlab] (ftc\col) at (\cx,1286.5) {$\text{\serf\itshape feature}_{28}(t-249)$};
  \draw[bdash, line width=0.9pt] (\cx,1261.4) -- (\cx,1275.5);
  \draw[wirearr] (\cx,1219) -- (rin\col.south);
  % wiring
  \coordinate (rbot\col) at (\cx,1153.1);
  \draw[wireln] (rin\col.north) -- (rbot\col);
  \draw[wireln] (\xl,1153.1) -- (\xr,1153.1);
  \draw[wirearr] (\xl,1153.1) -- (rbw\col.south);
  \draw[wirearr] (\xr,1153.1) -- (rfw\col.south);
  \draw[wireln] (\xl,1038) -- (\xl,\ty) -- (\xr,\ty) -- (\xr,1091);
  \draw[wirearr] (\cx,\ty) -- (rout\col.south);
}
\draw[dotarr] (1029.8,1065.6) -- (982.8,1065.6);
\draw[dotarr] (1175.8,1065.6) -- (1123.9,1065.6);
\draw[dotarr] (1341.6,1065.6) -- (1294.6,1065.6);
\draw[dotarr] (1041.2,1121) -- (1100.6,1121);
\draw[dotarr] (1216.4,1121) -- (1274.8,1121);
\draw[dotarr] (1360,1121) -- (1408,1121);
\node[font=\bfseries\fontsize{10}{12}\selectfont] (dt1) at (1195.6,983) {....};
\node[font=\bfseries\fontsize{10}{12}\selectfont] (dt2) at (1195.6,1083) {....};
\node[font=\bfseries\fontsize{10}{12}\selectfont] (dt3) at (1195.6,1183) {....};
\draw[line width=1.2pt] (1484,1090.4) -- (1489,1090.4) -- (1489,1142.5) -- (1484,1142.5);
\draw[line width=1.2pt] (1489,1116.5) -- (1494,1116.5);
\node[font=\serf\bfseries\fontsize{9.5}{13}\selectfont, align=left, anchor=west, inner sep=0pt] (lstm) at (1497,1118) {40\\LSTM\\cells};
\node[bigname] (rnn) at (1190.7,1318) {RNN};

\end{tikzpicture}
\end{document}
